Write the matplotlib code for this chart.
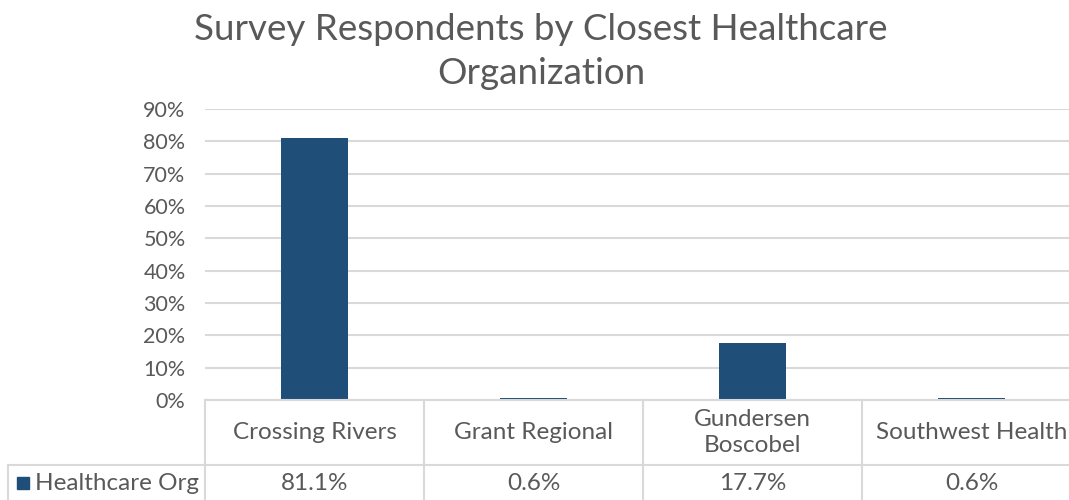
import matplotlib.pyplot as plt
from matplotlib.lines import Line2D
from matplotlib.patches import Rectangle

# data
categories = ["Crossing Rivers", "Grant Regional", "Gundersen\nBoscobel", "Southwest Health"]
values = [0.811, 0.006, 0.177, 0.006]
value_labels = ["81.1%", "0.6%", "17.7%", "0.6%"]
series_name = "Healthcare Org"
yticks = [0, 0.1, 0.2, 0.3, 0.4, 0.5, 0.6, 0.7, 0.8, 0.9]

bar_color = "#1f4e79"
text_color = "#595959"
grid_color = "#d9d9d9"

plt.rcParams['font.family'] = ['Lato', 'DejaVu Sans']

W, H = 1069, 500
fig = plt.figure(figsize=(W / 100, H / 100), dpi=100)


def fx(px):
    return px / W


def fy(py):
    return 1 - py / H


# plot area in pixels: left 205, 0% at 400, 90% at 109, cell width 219
left, bottom, top, cell = 205, 400, 109, 219
ax = fig.add_axes([fx(left), fy(bottom), fx(cell * 4), (bottom - top) / H])
x = list(range(len(categories)))
ax.bar(x, values, width=0.31, color=bar_color, zorder=3)
ax.set_xlim(-0.5, len(categories) - 0.5)
ax.set_ylim(0, 0.9)
ax.set_yticks(yticks)
ax.set_yticklabels([f"{int(round(t * 100))}%" for t in yticks])
ax.tick_params(axis='y', length=0, labelsize=15.5, labelcolor=text_color, pad=14)
ax.set_xticks([])
ax.grid(axis='y', color=grid_color, linewidth=1.5, zorder=0)
for s in ax.spines.values():
    s.set_visible(False)

fig.suptitle("Survey Respondents by Closest Healthcare\nOrganization", x=fx(541), y=fy(13),
             va='top', fontsize=26.5, color=text_color, linespacing=1.4)

# data table below the plot
mid, table_left = 465, 8
lw = 1.5
lines = [
    ((left, left + cell * 4), (bottom, bottom)),
    ((table_left, left + cell * 4), (mid, mid)),
    ((table_left, table_left), (mid, H)),
]
for i in range(5):
    xx = left + cell * i
    lines.append(((xx, xx), (bottom, H)))
for (xs, ys) in lines:
    fig.add_artist(Line2D([fx(v) for v in xs], [fy(v) for v in ys],
                          color=grid_color, linewidth=lw, transform=fig.transFigure))

for i, (cat, lab) in enumerate(zip(categories, value_labels)):
    cx = left + cell * (i + 0.5)
    fig.text(fx(cx), fy((bottom + mid) / 2), cat, ha='center', va='center',
             fontsize=17.5, color=text_color, linespacing=1.25)
    fig.text(fx(cx), fy((mid + H) / 2 + 1), lab, ha='center', va='center',
             fontsize=17.5, color=text_color)

fig.add_artist(Rectangle((fx(17), fy(489)), fx(12), 12 / H, color=bar_color,
                         transform=fig.transFigure))
fig.text(fx(35), fy(483), series_name, ha='left', va='center', fontsize=17.5,
         color=text_color)

fig.savefig("out.png", dpi=100)
